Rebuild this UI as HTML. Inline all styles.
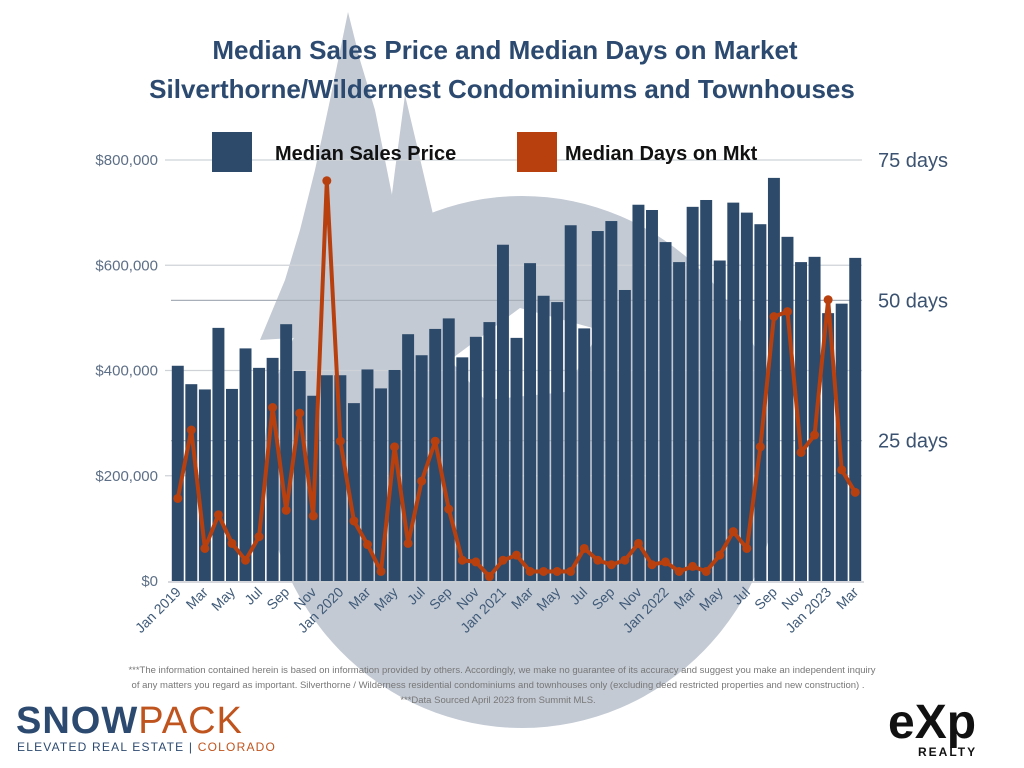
<!DOCTYPE html>
<html><head><meta charset="utf-8"><style>
body{margin:0;width:1024px;height:768px;background:#fff;overflow:hidden;font-family:"Liberation Sans",sans-serif}
svg{position:absolute;left:0;top:0}
</style></head><body>
<svg id="chart" width="1024" height="768">
  <g fill="#c3cad4">
    <ellipse cx="522" cy="462" rx="258" ry="266"/>
    <polygon points="348,12 360,60 375,110 385,160 395,210 405,260 420,330 260,340 285,280 300,230 315,170 330,100"/>
    <polygon points="405,95 418,150 432,210 445,270 455,330 370,330 385,250 395,170"/>
    <polygon fill="#fff" points="450,360 520,308 600,330 565,392 485,400"/>
  </g>
  <g font-family="Liberation Sans, sans-serif" font-weight="bold" font-size="26" fill="#2c4a70" text-anchor="middle">
    <text x="505" y="59">Median Sales Price and Median Days on Market</text>
    <text x="502" y="98">Silverthorne/Wildernest Condominiums and Townhouses</text>
  </g>
  <g id="grid"></g>
  <g id="bars"></g>
  <g id="line"></g>
  <g id="axes"></g>
  <g font-weight="bold" font-size="20" fill="#111">
    <rect x="212" y="132" width="40" height="40" fill="#2d4a6b"/>
    <text x="275" y="160">Median Sales Price</text>
    <rect x="517" y="132" width="40" height="40" fill="#b8400f"/>
    <text x="565" y="160">Median Days on Mkt</text>
  </g>
  <g font-size="9.5" fill="#777" text-anchor="middle">
    <text x="502" y="673">***The information contained herein is based on information provided by others. Accordingly, we make no guarantee of its accuracy and suggest you make an independent inquiry</text>
    <text x="498" y="688">of any matters you regard as important. Silverthorne / Wilderness  residential condominiums and townhouses only (excluding deed restricted properties and new construction) .</text>
    <text x="498" y="703">***Data Sourced April 2023 from Summit MLS.</text>
  </g>
  <g>
    <text x="16" y="733" font-size="38" font-weight="bold" fill="#2c4a70" letter-spacing="1">SNOW<tspan fill="#c0541e" font-weight="normal">PACK</tspan></text>
    <text x="17" y="751" font-size="12" fill="#2c4a70" letter-spacing="1.2">ELEVATED REAL ESTATE | <tspan fill="#c0541e">COLORADO</tspan></text>
  </g>
  <g>
    <text x="888" y="738" font-size="48" font-weight="bold" fill="#111">eXp</text>
    <text x="918" y="756" font-size="12" font-weight="bold" fill="#111" letter-spacing="2">REALTY</text>
  </g>
</svg>
<script>
const months = ["Jan 2019","Feb","Mar","Apr","May","Jun","Jul","Aug","Sep","Oct","Nov","Dec","Jan 2020","Feb","Mar","Apr","May","Jun","Jul","Aug","Sep","Oct","Nov","Dec","Jan 2021","Feb","Mar","Apr","May","Jun","Jul","Aug","Sep","Oct","Nov","Dec","Jan 2022","Feb","Mar","Apr","May","Jun","Jul","Aug","Sep","Oct","Nov","Dec","Jan 2023","Feb","Mar"];
const prices = [409000,374000,364000,481000,365000,442000,405000,424000,488000,399000,352000,391000,391000,338000,402000,366000,401000,469000,429000,479000,499000,425000,464000,492000,639000,462000,604000,542000,530000,676000,480000,665000,684000,553000,715000,705000,644000,606000,711000,724000,609000,719000,700000,678000,766000,654000,606000,616000,509000,527000,614000];
const days = [14.7,26.9,5.8,11.8,6.7,3.7,7.9,30.9,12.6,29.9,11.6,71.3,24.9,10.7,6.5,1.7,23.9,6.7,17.8,24.9,12.8,3.7,3.4,0.8,3.7,4.6,1.7,1.7,1.7,1.7,5.8,3.7,2.9,3.7,6.7,2.9,3.4,1.7,2.6,1.7,4.6,8.8,5.8,23.9,47.1,48,22.9,26,50.1,19.8,15.8];
const priceTicks = [0,200000,400000,600000,800000];
const priceTickLabels = ["$0","$200,000","$400,000","$600,000","$800,000"];
const dayTicks = [25,50,75];
const dayTickLabels = ["25 days","50 days","75 days"];

const NS="http://www.w3.org/2000/svg";
const X0=171, X1=862, Y0=581;
const pitch=(X1-X0)/months.length;
const yP=v=>Y0-v/800000*421;
const yD=v=>Y0-v*5.613;
const xC=i=>X0+pitch*(i+0.5);
function mk(tag,attrs,parent){const e=document.createElementNS(NS,tag);for(const k in attrs)e.setAttribute(k,attrs[k]);parent.appendChild(e);return e;}
const grid=document.getElementById('grid'),bars=document.getElementById('bars'),line=document.getElementById('line'),axes=document.getElementById('axes');

priceTicks.forEach((t,i)=>{
  if(t>0){const g=mk('line',{x1:165,x2:862,y1:yP(t),y2:yP(t),stroke:'#cfd3d8','stroke-width':1.2},grid);
  
  }
  const l=mk('text',{x:158,y:yP(t)+5,'text-anchor':'end','font-size':15,fill:'#5d6f86'},axes);
  l.textContent=priceTickLabels[i];
  
  
});
dayTicks.forEach((t,i)=>{
  if(t<75){const g=mk('line',{x1:171,x2:862,y1:yD(t),y2:yD(t),stroke:'#a9afb8','stroke-width':1.2},grid);
  
  }
  const l=mk('text',{x:878,y:yD(t)+7,'font-size':20,fill:'#3b5270'},axes);
  l.textContent=dayTickLabels[i];
  
  
});

prices.forEach((v,i)=>{
  const r=mk('rect',{x:X0+pitch*i+0.8,y:yP(v),width:pitch-1.6,height:Y0-yP(v),fill:'#2d4a6b'},bars);
  
  
});
const base=mk('line',{x1:168,x2:864,y1:Y0+1,y2:Y0+1,stroke:'#c8ccd2','stroke-width':1.5},axes);



const pts=days.map((d,i)=>xC(i)+','+yD(d)).join(' ');
const pl=mk('polyline',{points:pts,fill:'none',stroke:'#b8400f','stroke-width':4,'stroke-linejoin':'round'},line);


days.forEach((d,i)=>{
  const c=mk('circle',{cx:xC(i),cy:yD(d),r:4.5,fill:'#b8400f'},line);
  
  
});

months.forEach((m,i)=>{
  if(i%2)return;
  const x=xC(i)+4,y=593;
  const t=mk('text',{x:x,y:y,'text-anchor':'end','font-size':14,fill:'#3f5a78',transform:`rotate(-45 ${x} ${y})`},axes);
  t.textContent=m;
  
  
});
</script>
</body></html>
